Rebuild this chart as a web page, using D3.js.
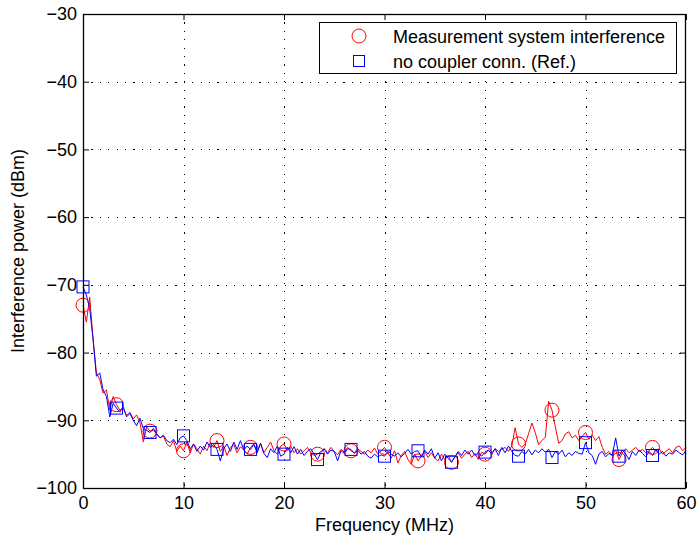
<!DOCTYPE html>
<html>
<head>
<meta charset="utf-8">
<script src="https://cdn.jsdelivr.net/npm/d3@7"></script>
<style>
  body { margin: 0; background: #fff; }
  svg { display: block; font-family: "Liberation Sans", Arial, sans-serif; }
</style>
</head>
<body>
<div id="chart"></div>
<script>
// frequency step is 1/3 MHz, markers on every 10th sample
const freqStep = 1 / 3;
const markerEvery = 10;

const seriesNames = ["Measurement system interference", "no coupler conn. (Ref.)"];

const measured = [
  -73.0,-75.5,-71.8,-78.0,-83.0,-84.0,-86.0,-85.5,-88.5,-86.5,
  -87.7,-88.5,-88.2,-89.3,-88.8,-89.8,-89.2,-90.3,-93.2,-91.0,
  -91.6,-91.5,-92.0,-92.6,-92.3,-93.5,-93.9,-93.0,-94.6,-93.8,
  -94.5,-93.2,-94.8,-93.5,-94.2,-95.0,-93.8,-94.5,-93.3,-94.0,
  -93.0,-94.6,-93.8,-95.2,-94.0,-93.6,-94.8,-93.9,-94.4,-95.0,
  -94.0,-93.5,-94.6,-93.4,-94.8,-94.0,-93.2,-94.5,-95.0,-93.8,
  -93.5,-94.4,-93.8,-94.8,-94.2,-95.0,-94.5,-94.0,-94.8,-95.2,
  -95.0,-94.6,-94.2,-94.8,-94.0,-94.6,-95.1,-94.3,-94.7,-94.0,
  -94.5,-94.8,-94.2,-94.6,-95.0,-94.4,-94.8,-94.1,-95.0,-94.5,
  -94.0,-94.8,-95.6,-94.5,-96.3,-95.2,-94.6,-95.8,-96.5,-95.0,
  -96.0,-95.3,-94.6,-95.5,-94.8,-95.6,-96.0,-95.0,-95.8,-95.2,
  -96.2,-95.4,-94.8,-95.6,-95.0,-94.6,-95.5,-94.9,-95.8,-94.7,
  -95.0,-94.4,-94.9,-94.2,-94.6,-94.3,-94.0,-94.6,-93.8,-91.1,
  -93.5,-94.0,-93.5,-92.0,-90.4,-91.8,-93.6,-93.0,-92.5,-87.2,
  -88.5,-91.0,-93.4,-93.0,-92.0,-91.7,-92.6,-92.2,-93.0,-92.4,
  -91.8,-92.8,-92.2,-93.0,-92.4,-94.0,-95.0,-94.6,-95.2,-94.4,
  -95.8,-94.8,-94.2,-94.8,-94.4,-94.0,-94.6,-94.3,-94.8,-94.5,
  -94.0,-94.6,-94.2,-95.0,-94.6,-94.2,-94.8,-94.0,-93.8,-94.5,
  -94.0
];

const reference = [
  -70.3,-71.5,-73.5,-78.0,-83.5,-83.0,-85.5,-86.5,-89.5,-87.5,
  -88.2,-88.8,-88.0,-89.5,-89.0,-90.0,-90.8,-89.7,-91.2,-91.5,
  -91.8,-91.2,-92.0,-92.6,-92.2,-93.0,-93.3,-92.8,-93.6,-92.6,
  -92.3,-93.0,-94.2,-93.5,-94.6,-93.8,-94.4,-93.2,-94.0,-93.6,
  -94.3,-96.0,-94.2,-93.5,-94.6,-93.2,-94.3,-93.0,-94.4,-93.8,
  -94.3,-93.6,-94.8,-93.4,-94.9,-95.5,-94.2,-94.8,-93.8,-95.3,
  -95.0,-94.0,-94.8,-93.9,-95.0,-94.3,-95.2,-94.6,-94.2,-95.0,
  -95.8,-94.8,-94.2,-95.0,-94.4,-94.6,-96.0,-94.5,-94.9,-94.2,
  -94.3,-94.9,-94.4,-95.0,-94.6,-95.3,-95.6,-95.0,-95.4,-95.1,
  -95.3,-94.6,-95.0,-95.3,-94.8,-95.4,-94.9,-94.3,-95.0,-94.6,
  -94.5,-95.4,-94.4,-95.0,-94.2,-95.6,-94.8,-96.0,-95.0,-95.6,
  -96.2,-95.4,-94.6,-95.2,-94.4,-95.0,-94.4,-95.2,-94.8,-95.3,
  -94.7,-94.4,-95.0,-94.2,-95.2,-94.0,-94.8,-93.8,-94.6,-95.2,
  -95.3,-94.6,-95.0,-94.3,-95.1,-94.4,-94.8,-94.2,-94.7,-94.3,
  -95.5,-94.6,-95.0,-94.4,-95.4,-94.8,-95.2,-94.6,-94.9,-95.0,
  -93.3,-94.8,-95.2,-96.5,-95.0,-94.6,-95.4,-94.9,-95.2,-92.6,
  -95.3,-94.4,-95.0,-95.8,-94.6,-95.2,-94.4,-94.9,-95.4,-94.6,
  -95.2,-94.3,-95.0,-94.6,-95.3,-94.8,-95.0,-94.4,-94.8,-95.1,
  -94.5
];

const xTicks = [0, 10, 20, 30, 40, 50, 60];
const yTicks = [-100, -90, -80, -70, -60, -50, -40, -30];

const width = 699, height = 543;
const margin = {left: 83, right: 13, top: 14, bottom: 55};
const fontSize = 18;

const svg = d3.select("#chart").append("svg")
  .attr("width", width)
  .attr("height", height);

const x = d3.scaleLinear().domain([0, 60]).range([margin.left, width - margin.right]);
const y = d3.scaleLinear().domain([-100, -30]).range([height - margin.bottom, margin.top]);

const x0 = x.range()[0], x1 = x.range()[1];
const y0 = y.range()[0], y1 = y.range()[1];

// grid (sparse dots)
const grid = svg.append("g").attr("stroke", "#000").attr("stroke-width", 1)
  .attr("stroke-dasharray", "1.2,7.2").attr("shape-rendering", "crispEdges");
grid.selectAll(".gx").data(xTicks.slice(1, -1)).join("line")
  .attr("x1", d => Math.round(x(d)) + 0.5).attr("x2", d => Math.round(x(d)) + 0.5)
  .attr("y1", y1).attr("y2", y0);
grid.selectAll(".gy").data(yTicks.slice(1, -1)).join("line")
  .attr("y1", d => Math.round(y(d)) + 0.5).attr("y2", d => Math.round(y(d)) + 0.5)
  .attr("x1", x0).attr("x2", x1);

// data lines
const lineGen = d3.line().x((d, i) => x(i * freqStep)).y(d => y(d));
const colors = ["#ff0000", "#0000ff"];
const allSeries = [measured, reference];

svg.append("g").selectAll("path").data(allSeries).join("path")
  .attr("d", d => lineGen(d))
  .attr("fill", "none")
  .attr("stroke", (d, i) => colors[i])
  .attr("stroke-width", 1);

// markers (last sample at 60 MHz carries no marker)
const pick = arr => arr.map((v, i) => ({f: i * freqStep, v}))
  .filter((d, i) => i % markerEvery === 0 && i < arr.length - 1);

svg.append("g").selectAll("circle").data(pick(measured)).join("circle")
  .attr("cx", d => x(d.f)).attr("cy", d => y(d.v)).attr("r", 7)
  .attr("fill", "none").attr("stroke", colors[0]).attr("stroke-width", 1);

svg.append("g").selectAll("rect").data(pick(reference)).join("rect")
  .attr("x", d => x(d.f) - 6).attr("y", d => y(d.v) - 6)
  .attr("width", 12).attr("height", 12)
  .attr("fill", "none").attr("stroke", colors[1]).attr("stroke-width", 1);

// frame
svg.append("rect")
  .attr("x", x0 + 0.5).attr("y", y1 + 0.5)
  .attr("width", x1 - x0 - 1).attr("height", y0 - y1)
  .attr("fill", "none").attr("stroke", "#000").attr("stroke-width", 1.3);

// axes with inward ticks on all sides
const tickLen = 6;
const axB = svg.append("g").attr("transform", `translate(0,${y0})`)
  .call(d3.axisBottom(x).tickValues(xTicks).tickSize(-tickLen).tickPadding(8));
const axT = svg.append("g").attr("transform", `translate(0,${y1})`)
  .call(d3.axisTop(x).tickValues(xTicks).tickSize(-tickLen).tickFormat(""));
const axL = svg.append("g").attr("transform", `translate(${x0},0)`)
  .call(d3.axisLeft(y).tickValues(yTicks).tickSize(-tickLen).tickPadding(6)
    .tickFormat(d => String(d).replace("-", "\u2212")));
const axR = svg.append("g").attr("transform", `translate(${x1},0)`)
  .call(d3.axisRight(y).tickValues(yTicks).tickSize(-tickLen).tickFormat(""));

[axB, axT, axL, axR].forEach(a => {
  a.select(".domain").remove();
  a.selectAll("line").attr("stroke", "#000");
  a.selectAll("text").attr("font-size", fontSize).attr("fill", "#000")
    .attr("font-family", "'Liberation Sans', Arial, sans-serif");
});

// axis labels
svg.append("text")
  .attr("x", (x0 + x1) / 2).attr("y", 531)
  .attr("text-anchor", "middle").attr("font-size", fontSize)
  .text("Frequency (MHz)");

svg.append("text")
  .attr("transform", `translate(24,${(y0 + y1) / 2}) rotate(-90)`)
  .attr("text-anchor", "middle").attr("font-size", fontSize)
  .text("Interference power (dBm)");

// legend
const legend = svg.append("g");
legend.append("rect")
  .attr("x", 319.5).attr("y", 22.5).attr("width", 357).attr("height", 51)
  .attr("fill", "#fff").attr("stroke", "#000").attr("stroke-width", 1);

const legY = [36, 61];
legend.append("circle").attr("cx", 359).attr("cy", legY[0]).attr("r", 7)
  .attr("fill", "none").attr("stroke", colors[0]);
legend.append("rect").attr("x", 353.5).attr("y", legY[1] - 5.5).attr("width", 11).attr("height", 11)
  .attr("fill", "none").attr("stroke", colors[1]);
legend.selectAll("text").data(seriesNames).join("text")
  .attr("x", 393).attr("y", (d, i) => legY[i] + 6.5)
  .attr("font-size", fontSize)
  .text(d => d);
</script>
</body>
</html>
